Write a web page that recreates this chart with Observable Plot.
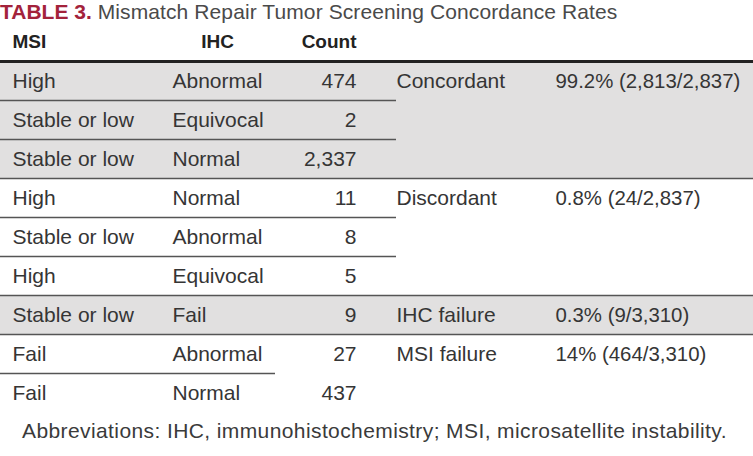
<!DOCTYPE html>
<html><head><meta charset="utf-8">
<script src="https://cdn.jsdelivr.net/npm/d3@7"></script>
<script src="https://cdn.jsdelivr.net/npm/@observablehq/plot@0.6"></script>
<style>
body{margin:0;background:#fff;width:753px;overflow:hidden;font-family:"Liberation Sans",Arial,sans-serif;}
#title{height:22px;line-height:24px;font-size:21px;color:#4a4a4a;white-space:nowrap;letter-spacing:0.1px;overflow:visible;}
#title b{color:#a3223b;letter-spacing:0;}
#chart svg{display:block;}
#note{font-size:21px;color:#3a3a3a;padding-left:22px;line-height:20px;height:35px;white-space:nowrap;letter-spacing:0.4px;}
</style></head><body>
<div id="title"><b>TABLE 3.</b> Mismatch Repair Tumor Screening Concordance Rates</div>
<div id="chart"></div>
<div id="note">Abbreviations: IHC, immunohistochemistry; MSI, microsatellite instability.</div>
<script>
const headers = ["MSI", "IHC", "Count"];
const msi = ["High", "Stable or low", "Stable or low", "High", "Stable or low", "High", "Stable or low", "Fail", "Fail"];
const ihc = ["Abnormal", "Equivocal", "Normal", "Normal", "Abnormal", "Equivocal", "Fail", "Abnormal", "Normal"];
const counts = [474, 2, 2337, 11, 8, 5, 9, 27, 437];
const groups = ["Concordant", "Discordant", "IHC failure", "MSI failure"];
const groupRows = [0, 3, 6, 7];
const rates = ["99.2% (2,813/2,837)", "0.8% (24/2,837)", "0.3% (9/3,310)", "14% (464/3,310)"];
const shadedRows = [0, 1, 2, 6];
const ruleFull = [3, 6, 7];
const ruleLeft = [1, 2, 4, 5];
const ruleShort = [8];

// layout
const W = 753;
const col = {msi: 12, ihc: 172, ihcHead: 217, count: 356, group: 396, rate: 555, short: 275};
const textColor = "#353535";
const bodyFont = "Liberation Sans, Arial, sans-serif";

const rows = msi.map((m, i) => ({i, msi: m, ihc: ihc[i], count: d3.format(",")(counts[i])}));
const grp = groups.map((g, k) => ({i: groupRows[k], group: g, rate: rates[k]}));
const head = headers.map((h, k) => ({h, x: [col.msi, col.ihcHead, col.count][k], anchor: ["start", "middle", "end"][k]}));

const txt = {fontSize: 21, fontFamily: bodyFont, fill: textColor};
const hd = {y: () => -0.5, text: "h", fontWeight: "bold", fontSize: 19, fontFamily: bodyFont, fill: "#222"};

const chart = Plot.plot({
  width: W, height: 399, margin: 0,
  x: {domain: [0, W], range: [0, W], axis: null},
  y: {domain: [-1, 9], range: [0, 390], axis: null},
  marks: [
    Plot.rect(shadedRows, {x1: () => 0, x2: () => W, y1: d => d, y2: d => d + 1, fill: "#e1e0e0"}),
    Plot.ruleY(ruleFull, {x1: () => 0, x2: () => W, stroke: "#555", strokeWidth: 1.5}),
    Plot.ruleY(ruleLeft, {x1: () => 0, x2: () => col.group, stroke: "#555", strokeWidth: 1.5}),
    Plot.ruleY(ruleShort, {x1: () => 0, x2: () => col.short, stroke: "#555", strokeWidth: 1.5}),
    Plot.ruleY([0], {x1: () => 0, x2: () => W, stroke: "#222", strokeWidth: 3}),
    Plot.text(head.filter(d => d.anchor === "start"), {x: "x", textAnchor: "start", ...hd}),
    Plot.text(head.filter(d => d.anchor === "middle"), {x: "x", textAnchor: "middle", ...hd}),
    Plot.text(head.filter(d => d.anchor === "end"), {x: "x", textAnchor: "end", ...hd}),
    Plot.text(rows, {x: () => col.msi, y: d => d.i + 0.5, text: "msi", textAnchor: "start", ...txt}),
    Plot.text(rows, {x: () => col.ihc, y: d => d.i + 0.5, text: "ihc", textAnchor: "start", ...txt}),
    Plot.text(rows, {x: () => col.count, y: d => d.i + 0.5, text: "count", textAnchor: "end", ...txt}),
    Plot.text(grp, {x: () => col.group, y: d => d.i + 0.5, text: "group", textAnchor: "start", ...txt}),
    Plot.text(grp, {x: () => col.rate, y: d => d.i + 0.5, text: "rate", textAnchor: "start", ...txt, fontSize: 20.4})
  ]
});
document.getElementById("chart").append(chart);
</script>
</body></html>
